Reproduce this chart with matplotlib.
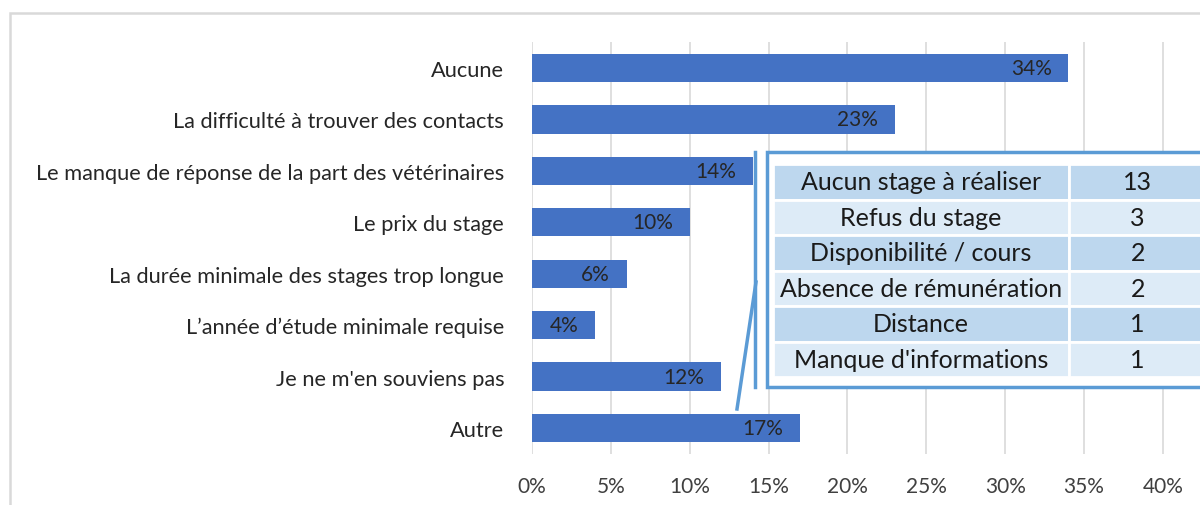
import matplotlib
matplotlib.use("Agg")
import matplotlib.pyplot as plt
from matplotlib.patches import Rectangle
from matplotlib.lines import Line2D

categories = [
    "Aucune",
    "La difficulté à trouver des contacts",
    "Le manque de réponse de la part des vétérinaires",
    "Le prix du stage",
    "La durée minimale des stages trop longue",
    "L\u2019année d\u2019étude minimale requise",
    "Je ne m'en souviens pas",
    "Autre",
]
values = [0.34, 0.23, 0.14, 0.10, 0.06, 0.04, 0.12, 0.17]
tick_values = [0, 0.05, 0.10, 0.15, 0.20, 0.25, 0.30, 0.35, 0.40]
tick_labels = ["0%", "5%", "10%", "15%", "20%", "25%", "30%", "35%", "40%"]

table_reasons = ["Aucun stage à réaliser", "Refus du stage", "Disponibilité / cours",
                 "Absence de rémunération", "Distance", "Manque d'informations"]
table_counts = ["13", "3", "2", "2", "1", "1"]

FONT = ["Lato", "DejaVu Sans"]
plt.rcParams["font.family"] = FONT

W, H = 1200, 506
fig = plt.figure(figsize=(W / 100, H / 100), dpi=100)

def fx(x):
    return x / W

def fy(y):
    return 1 - y / H

# outer chart border (partially cropped)
fig.add_artist(Rectangle((fx(10), fy(600)), fx(1300 - 10), fy(14) - fy(600),
                         transform=fig.transFigure, fill=False,
                         edgecolor="#D9D9D9", linewidth=1.8))

ax = fig.add_axes([fx(532), fy(454.7), 1 - fx(532), fy(43.3) - fy(454.7)])
y = list(range(len(categories)))
ax.barh(y, values, height=0.55, color="#4472C4", zorder=3)
ax.set_ylim(len(categories) - 0.5, -0.5)
ax.set_xlim(0, 0.4235)
ax.set_yticks(y)
ax.set_yticklabels(categories, fontsize=15.7, color="#262626")
ax.set_xticks(tick_values)
ax.set_xticklabels(tick_labels, fontsize=15, color="#404040")
ax.tick_params(axis="both", length=0)
ax.tick_params(axis="y", pad=20)
ax.tick_params(axis="x", pad=16)
ax.grid(axis="x", color="#D9D9D9", linewidth=1.2, zorder=0)
for s in ax.spines.values():
    s.set_visible(False)

for yi, v in zip(y, values):
    ax.annotate(f"{round(v * 100)}%", xy=(v, yi), xytext=(-12, 0),
                textcoords="offset points", ha="right", va="center",
                fontsize=15, color="#262626", zorder=4)

# connector lines
line_col = "#5B9BD5"
fig.add_artist(Line2D([fx(755), fx(755)], [fy(153), fy(388)],
                      transform=fig.transFigure, color=line_col, linewidth=2.5))
fig.add_artist(Line2D([fx(737), fx(756)], [fy(410), fy(283)],
                      transform=fig.transFigure, color=line_col, linewidth=2.5))

# table frame
fig.add_artist(Rectangle((fx(767), fy(388)), fx(1300 - 767), fy(153) - fy(388),
                         transform=fig.transFigure, facecolor="white",
                         edgecolor=line_col, linewidth=2.5, zorder=5))

tax = fig.add_axes([fx(773), fy(378), fx(1206 - 773), fy(165) - fy(378)], zorder=6)
tax.axis("off")
cell_text = [[r, c] for r, c in zip(table_reasons, table_counts)]
colors = [["#BDD7EE", "#BDD7EE"] if i % 2 == 0 else ["#DDEBF7", "#DDEBF7"]
          for i in range(len(table_reasons))]
tbl = tax.table(cellText=cell_text, cellColours=colors, cellLoc="center",
                bbox=[0, 0, 1, 1], colWidths=[295, 136])
tbl.auto_set_font_size(False)
for (r, c), cell in tbl.get_celld().items():
    cell.set_edgecolor("white")
    cell.set_linewidth(2)
    cell.PAD = 0.01
    cell.get_text().set_fontsize(18)
    cell.get_text().set_color("#1a1a1a")
    cell.get_text().set_fontfamily(FONT)

fig.savefig("out.png", dpi=100)
